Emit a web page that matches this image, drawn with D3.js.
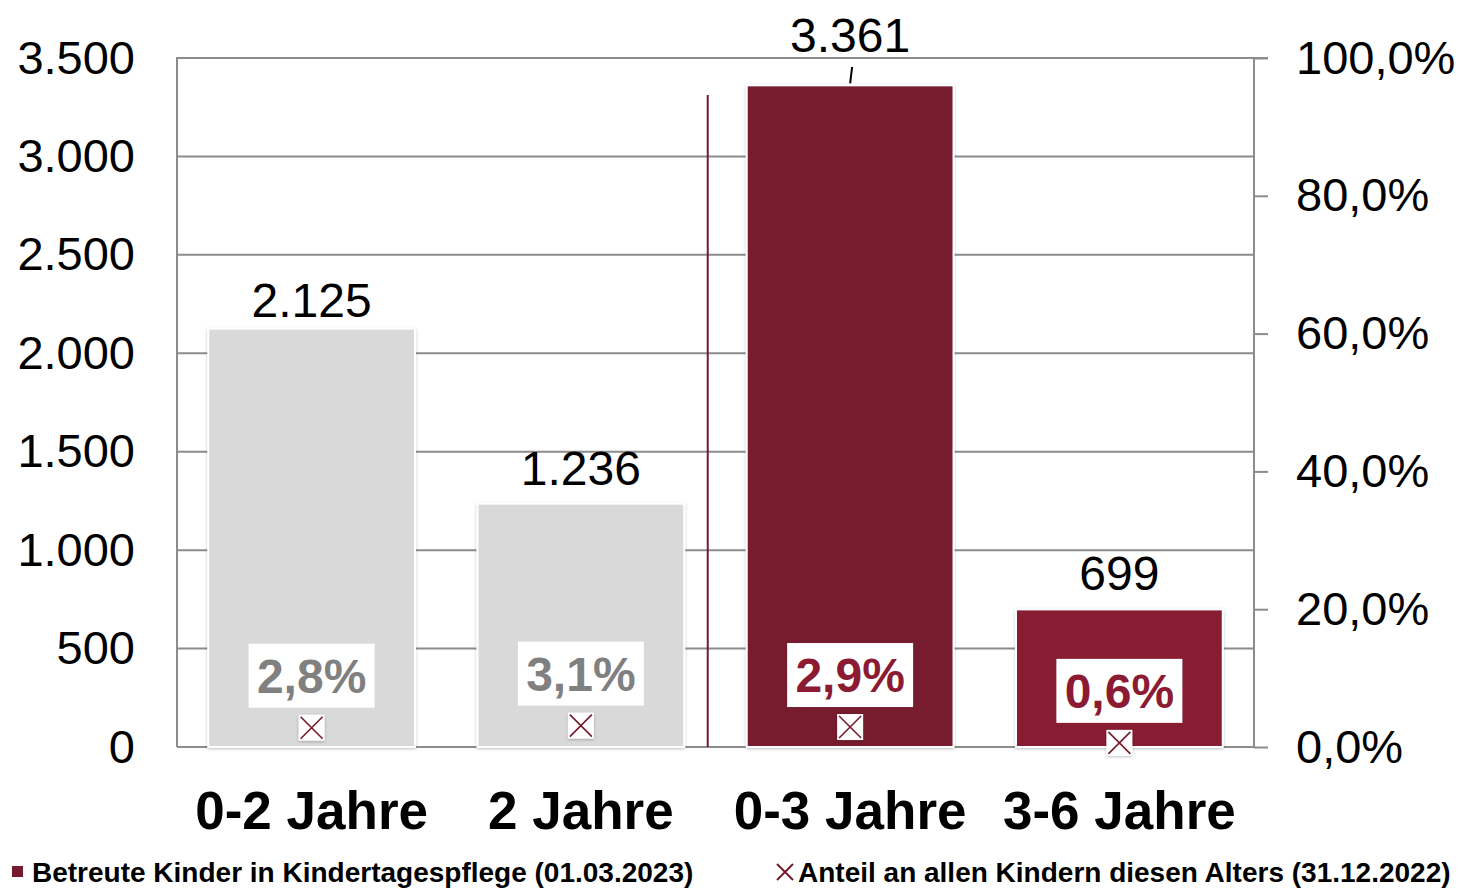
<!DOCTYPE html>
<html lang="de">
<head>
<meta charset="UTF-8">
<title>Kindertagespflege</title>
<script src="https://d3js.org/d3.v7.min.js"></script>
<style>
  body { margin: 0; background: #fff; font-family: "Liberation Sans", Arial, sans-serif; }
  svg { display: block; }
</style>
</head>
<body>
<div id="chart"></div>
<script>
// data
const categories = ['0-2 Jahre', '2 Jahre', '0-3 Jahre', '3-6 Jahre'];
const children = [2125, 1236, 3361, 699];
const shares = [2.8, 3.1, 2.9, 0.6];
const barColors = ['#d9d9d9', '#d9d9d9', '#771a2d', '#871e33'];
const shareColors = ['#808080', '#808080', '#8b1a33', '#8b1a33'];
const leftTicks = [0, 500, 1000, 1500, 2000, 2500, 3000, 3500];
const rightTicks = [0, 20, 40, 60, 80, 100];
const legendLabels = ['Betreute Kinder in Kindertagespflege (01.03.2023)', 'Anteil an allen Kindern diesen Alters (31.12.2022)'];

const W = 1461, H = 888;
const plotLeft = 177, plotRight = 1254, plotTop = 58, plotBottom = 747;

const svg = d3.select('#chart').append('svg')
  .attr('width', W).attr('height', H);

const defs = svg.append('defs');
const shadow = defs.append('filter').attr('id', 'shadow')
  .attr('x', '-10%').attr('y', '-10%').attr('width', '120%').attr('height', '120%');
shadow.append('feDropShadow').attr('dx', 0).attr('dy', 1).attr('stdDeviation', 1.5)
  .attr('flood-color', '#000').attr('flood-opacity', 0.25);

const x = d3.scaleBand().domain(categories).range([plotLeft, plotRight])
  .paddingInner(0.232).paddingOuter(0.116);
const y = d3.scaleLinear().domain([0, 3500]).range([plotBottom, plotTop]);
const y2 = d3.scaleLinear().domain([0, 100]).range([plotBottom, plotTop]);

const fmtInt = v => d3.format(',')(v).replace(/,/g, '.');
const fmtPct1 = v => d3.format('.1f')(v).replace('.', ',') + '%';

// gridlines
svg.append('g').selectAll('line').data(leftTicks).join('line')
  .attr('x1', plotLeft).attr('x2', d => d === 3500 ? plotRight + 14 : plotRight)
  .attr('y1', d => y(d)).attr('y2', d => y(d))
  .attr('stroke', '#8c8c8c').attr('stroke-width', 2);

// left axis line
svg.append('line').attr('x1', plotLeft).attr('x2', plotLeft).attr('y1', plotTop - 1).attr('y2', plotBottom)
  .attr('stroke', '#8c8c8c').attr('stroke-width', 2);

// right axis
const ra = svg.append('g').attr('transform', `translate(${plotRight},0)`)
  .call(d3.axisRight(y2).tickValues(rightTicks).tickSize(14).tickPadding(28).tickFormat(fmtPct1));
ra.select('.domain').attr('stroke', '#8c8c8c').attr('stroke-width', 2).attr('d', `M0,${plotTop}V${plotBottom}`);
ra.selectAll('.tick line').attr('stroke', '#8c8c8c').attr('stroke-width', 2);
ra.selectAll('.tick text').attr('font-size', 47).attr('fill', '#000')
  .attr('font-family', '"Liberation Sans", Arial, sans-serif');

// left axis labels
const la = svg.append('g').attr('transform', `translate(${plotLeft},0)`)
  .call(d3.axisLeft(y).tickValues(leftTicks).tickSize(0).tickPadding(42).tickFormat(fmtInt));
la.select('.domain').remove();
la.selectAll('.tick text').attr('font-size', 47).attr('fill', '#000')
  .attr('font-family', '"Liberation Sans", Arial, sans-serif');

// separator line
const sepX = x('0-3 Jahre') - 39;
svg.append('line')
  .attr('x1', sepX).attr('x2', sepX)
  .attr('y1', 95).attr('y2', plotBottom)
  .attr('stroke', '#771a2d').attr('stroke-width', 2);

// bars
svg.append('g').selectAll('rect').data(categories).join('rect')
  .attr('x', d => x(d)).attr('width', x.bandwidth())
  .attr('y', (d, i) => y(children[i])).attr('height', (d, i) => plotBottom - y(children[i]))
  .attr('fill', (d, i) => barColors[i])
  .attr('stroke', '#fff').attr('stroke-width', 2)
  .attr('filter', 'url(#shadow)');

// value labels
const cx = d => x(d) + x.bandwidth() / 2;
svg.append('g').selectAll('text').data(categories).join('text')
  .attr('x', d => cx(d))
  .attr('y', (d, i) => i === 2 ? 52 : y(children[i]) - (i === 0 ? 12 : 19))
  .attr('text-anchor', 'middle').attr('font-size', 48).attr('fill', '#000')
  .text((d, i) => fmtInt(children[i]));

// leader line for 3.361
svg.append('line')
  .attr('x1', cx('0-3 Jahre') + 2).attr('y1', 67)
  .attr('x2', cx('0-3 Jahre')).attr('y2', y(children[2]) - 2)
  .attr('stroke', '#000').attr('stroke-width', 2);

// share markers
const mk = svg.append('g').selectAll('g').data(categories).join('g')
  .attr('transform', (d, i) => `translate(${cx(d)},${y2(shares[i])})`);
mk.append('rect').attr('x', -13).attr('y', -13).attr('width', 26).attr('height', 26)
  .attr('fill', '#fff').attr('filter', 'url(#shadow)');
mk.append('path').attr('d', 'M-11,-11L11,11M11,-11L-11,11')
  .attr('stroke', '#771a2d').attr('stroke-width', 1.6);

// share labels
const sl = svg.append('g').selectAll('g').data(categories).join('g')
  .attr('transform', (d, i) => `translate(${cx(d)},${y2(shares[i]) - 20})`);
sl.append('rect').attr('x', -63).attr('y', -64).attr('width', 126).attr('height', 64)
  .attr('fill', '#fff');
sl.append('text').attr('x', 0).attr('y', -15).attr('text-anchor', 'middle')
  .attr('font-size', 48).attr('font-weight', 'bold')
  .attr('fill', (d, i) => shareColors[i])
  .text((d, i) => fmtPct1(shares[i]));

// category labels
svg.append('g').selectAll('text').data(categories).join('text')
  .attr('x', d => cx(d)).attr('y', 829)
  .attr('text-anchor', 'middle').attr('font-size', 53).attr('font-weight', 'bold')
  .attr('fill', '#000').text(d => d);

// legend
const lg = svg.append('g').attr('font-size', 28).attr('font-weight', 'bold').attr('fill', '#000');
lg.append('rect').attr('x', 12).attr('y', 866).attr('width', 11).attr('height', 11).attr('fill', '#771a2d');
lg.append('text').attr('x', 32).attr('y', 882).text(legendLabels[0]);
lg.append('path').attr('d', 'M777,864L793,880M793,864L777,880')
  .attr('stroke', '#771a2d').attr('stroke-width', 2);
lg.append('text').attr('x', 798).attr('y', 882).text(legendLabels[1]);
</script>
</body>
</html>
